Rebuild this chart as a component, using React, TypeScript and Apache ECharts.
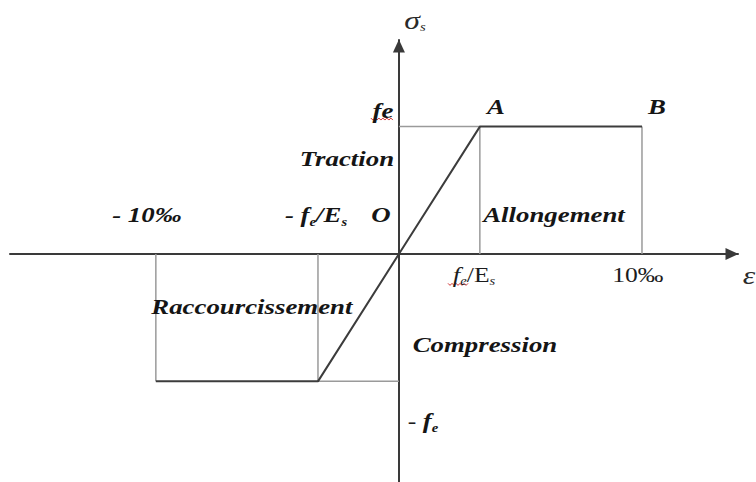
import { useEffect, useRef } from "react";
import * as echarts from "echarts";

// Strain axis in ‰, stress axis normalised to fe = 1
const strainRange = [-16, 13.95];
const stressRange = [-1.79, 1.68];

// Design stress–strain law of the steel (elastic–perfectly plastic)
const curveStrain = [-10, -3.33, 0, 3.33, 10];
const curveStress = [-1, -1, 0, 1, 1];

// Thin construction lines: [[x1, y1], [x2, y2]]
const guideSegments: number[][][] = [
  [[0, 1], [3.33, 1]],
  [[3.33, 1], [3.33, 0]],
  [[10, 1], [10, 0]],
  [[-10, 0], [-10, -1]],
  [[-3.33, 0], [-3.33, -1]],
  [[-3.33, -1], [0, -1]],
];

// Annotations (rich text) and their anchor in data coordinates
const labelText = [
  "{g|σ}{rs|s}",
  "{b|fe}",
  "{b|A}",
  "{b|B}",
  "{b|Traction}",
  "{b|O}",
  "{b|- 10‰}",
  "{b|- f}{bs|e}{b|/E}{bs|s}",
  "{b|Allongement}",
  "{ri|f}{rs|e}{r|/E}{rs|s}",
  "{r|10‰}",
  "{g|ε}",
  "{b|Raccourcissement}",
  "{b|Compression}",
  "{r|- }{b|f}{bs|e}",
];
const labelX = [0.66, -0.66, 3.99, 10.62, -2.14, -0.74, -10.37, -3.41, 6.38, 3.09, 9.83, 14.4, -6.05, 3.54, 0.99];
const labelY = [1.84, 1.13, 1.16, 1.16, 0.75, 0.31, 0.31, 0.31, 0.31, -0.16, -0.16, -0.165, -0.41, -0.71, -1.31];

// Red spell-check squiggles under the two "fe" words: label index and offset
const squiggleLabel = [1, 9];
const squiggleDx = [-12, -26];
const squiggleDy = [8, 9];
const squiggleWidth = [22, 21];

const SERIF = "'Liberation Serif', 'Times New Roman', serif";

const rich = {
  b: { fontFamily: SERIF, fontSize: 22, fontWeight: "bold", fontStyle: "italic", fill: "#151515", lineHeight: 26 },
  bs: { fontFamily: SERIF, fontSize: 12, fontWeight: "bold", fontStyle: "italic", fill: "#151515", lineHeight: 14, verticalAlign: "bottom" },
  r: { fontFamily: SERIF, fontSize: 21, fill: "#1c1c1c", lineHeight: 26 },
  ri: { fontFamily: SERIF, fontSize: 22, fontStyle: "italic", fill: "#1c1c1c", lineHeight: 26 },
  g: { fontFamily: SERIF, fontSize: 26, fontStyle: "italic", fill: "#2a2a2a", lineHeight: 26 },
  rs: { fontFamily: SERIF, fontSize: 12, fontStyle: "italic", fill: "#1c1c1c", lineHeight: 14, verticalAlign: "bottom" },
};

export default function App() {
  const ref = useRef<HTMLDivElement>(null);

  useEffect(() => {
    if (!ref.current) return;
    const chart = echarts.init(ref.current, null, { renderer: "svg" });

    const axisCommon = {
      type: "value" as const,
      axisLine: {
        show: true,
        onZero: true,
        symbol: ["none", "triangle"],
        symbolSize: [12, 13],
        symbolOffset: [0, -6],
        lineStyle: { color: "#3a3a3a", width: 2 },
      },
      axisTick: { show: false },
      axisLabel: { show: false },
      splitLine: { show: false },
    };

    chart.setOption({
      animation: false,
      backgroundColor: "#ffffff",
      grid: { left: 10, right: 18, top: 40, bottom: 0, containLabel: false, outerBoundsMode: "none" },
      xAxis: { ...axisCommon, min: strainRange[0], max: strainRange[1] },
      yAxis: { ...axisCommon, min: stressRange[0], max: stressRange[1] },
      series: [
        ...guideSegments.map((seg) => ({
          type: "line",
          data: seg,
          symbol: "none",
          silent: true,
          z: 1,
          lineStyle: { color: "#9a9a9a", width: 1.5 },
        })),
        {
          type: "line",
          data: curveStrain.map((x, i) => [x, curveStress[i]]),
          symbol: "none",
          silent: true,
          z: 3,
          lineStyle: { color: "#3c3c3c", width: 2 },
        },
      ],
    });

    const toPx = (x: number, y: number) =>
      chart.convertToPixel({ gridIndex: 0 }, [x, y]) as number[];

    const texts = labelText.map((t, i) => {
      const p = toPx(labelX[i], labelY[i]);
      return {
        type: "text",
        x: p[0],
        y: p[1],
        scaleX: 1.22,
        z: 10,
        silent: true,
        style: { text: t, rich, align: "center", verticalAlign: "middle" },
      };
    });

    const squiggles = squiggleLabel.map((li, k) => {
      const p = toPx(labelX[li], labelY[li]);
      const x0 = p[0] + squiggleDx[k];
      const y0 = p[1] + squiggleDy[k];
      const pts: number[][] = [];
      for (let s = 0; s <= squiggleWidth[k]; s += 2) {
        pts.push([x0 + s, y0 + ((s / 2) % 2 === 0 ? 0 : 2)]);
      }
      return {
        type: "polyline",
        z: 9,
        silent: true,
        shape: { points: pts },
        style: { stroke: "#d03030", lineWidth: 1, fill: null },
      };
    });

    chart.setOption({ graphic: [...texts, ...squiggles] });

    return () => chart.dispose();
  }, []);

  return (
    <div
      ref={ref}
      style={{ position: "fixed", left: 0, top: 0, width: 756, height: 482, background: "#fff" }}
    />
  );
}
